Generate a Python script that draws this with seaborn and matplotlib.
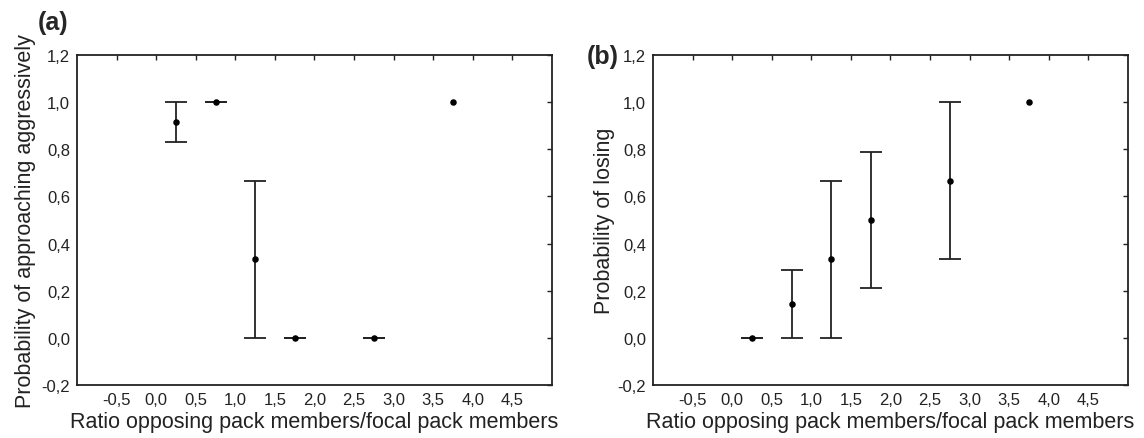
import numpy as np
import pandas as pd
import matplotlib
matplotlib.use("Agg")
import matplotlib.pyplot as plt
import seaborn as sns

# ---- data ----
ratio = [0.25, 0.75, 1.25, 1.75, 2.75, 3.75]

approach_mean = [0.917, 1.0, 0.333, 0.0, 0.0, 1.0]
approach_low = [0.833, 1.0, 0.0, 0.0, 0.0, 1.0]
approach_high = [1.0, 1.0, 0.667, 0.0, 0.0, 1.0]
approach_hasbar = [True, True, True, True, True, False]

lose_mean = [0.0, 0.143, 0.333, 0.5, 0.667, 1.0]
lose_low = [0.0, 0.0, 0.0, 0.21, 0.333, 1.0]
lose_high = [0.0, 0.286, 0.667, 0.79, 1.0, 1.0]
lose_hasbar = [True, True, True, True, True, False]

xticks = [-0.5, 0.0, 0.5, 1.0, 1.5, 2.0, 2.5, 3.0, 3.5, 4.0, 4.5]
xticklabels = ["-0,5", "0,0", "0,5", "1,0", "1,5", "2,0", "2,5", "3,0", "3,5", "4,0", "4,5"]
yticks = [-0.2, 0.0, 0.2, 0.4, 0.6, 0.8, 1.0, 1.2]
yticklabels = ["-0,2", "0,0", "0,2", "0,4", "0,6", "0,8", "1,0", "1,2"]

xlabel = "Ratio opposing pack members/focal pack members"
ylabel_a = "Probability of approaching aggressively"
ylabel_b = "Probability of losing"

sns.set_theme(style="white")
plt.rcParams["font.family"] = ["Liberation Sans", "DejaVu Sans"]

fig = plt.figure(figsize=(11.44, 4.39), dpi=100)
ax_a = fig.add_axes([0.0673, 0.1207, 0.4152, 0.7517])
ax_b = fig.add_axes([0.5708, 0.1207, 0.4152, 0.7517])

line_col = "#222222"


def draw(ax, mean, low, high, hasbar, ylabel, ylabelpad):
    df = pd.DataFrame({"x": ratio, "y": mean, "lo": low, "hi": high, "bar": hasbar})
    bars = df[df["bar"]]
    ax.errorbar(bars["x"], bars["y"],
                yerr=[bars["y"] - bars["lo"], bars["hi"] - bars["y"]],
                fmt="none", ecolor=line_col, elinewidth=1.3, capsize=8,
                capthick=1.3, zorder=2)
    sns.scatterplot(data=df, x="x", y="y", ax=ax, color="black", s=22,
                    edgecolor="black", linewidth=0, zorder=3, legend=False)
    ax.set_xlim(-1.0, 5.0)
    ax.set_ylim(-0.2, 1.2)
    ax.set_xticks(xticks)
    ax.set_xticklabels(xticklabels)
    ax.set_yticks(yticks)
    ax.set_yticklabels(yticklabels)
    ax.tick_params(direction="in", length=3.5, width=1.0, color=line_col,
                   top=True, right=True, labelsize=12, pad=5,
                   labelcolor="#222222")
    for s in ax.spines.values():
        s.set_visible(True)
        s.set_color(line_col)
        s.set_linewidth(1.3)
    ax.set_xlabel(xlabel, fontsize=15.5, color="#222222", labelpad=3)
    ax.set_ylabel(ylabel, fontsize=15.5, color="#222222", labelpad=ylabelpad)
    ax.grid(False)


draw(ax_a, approach_mean, approach_low, approach_high, approach_hasbar, ylabel_a, 4)
draw(ax_b, lose_mean, lose_low, lose_high, lose_hasbar, ylabel_b, 2)

fig.text(0.046, 0.948, "(a)", fontsize=18, fontweight="bold", ha="center", va="center")
fig.text(0.527, 0.870, "(b)", fontsize=18, fontweight="bold", ha="center", va="center")

fig.savefig("out.png", dpi=100, facecolor="white")
